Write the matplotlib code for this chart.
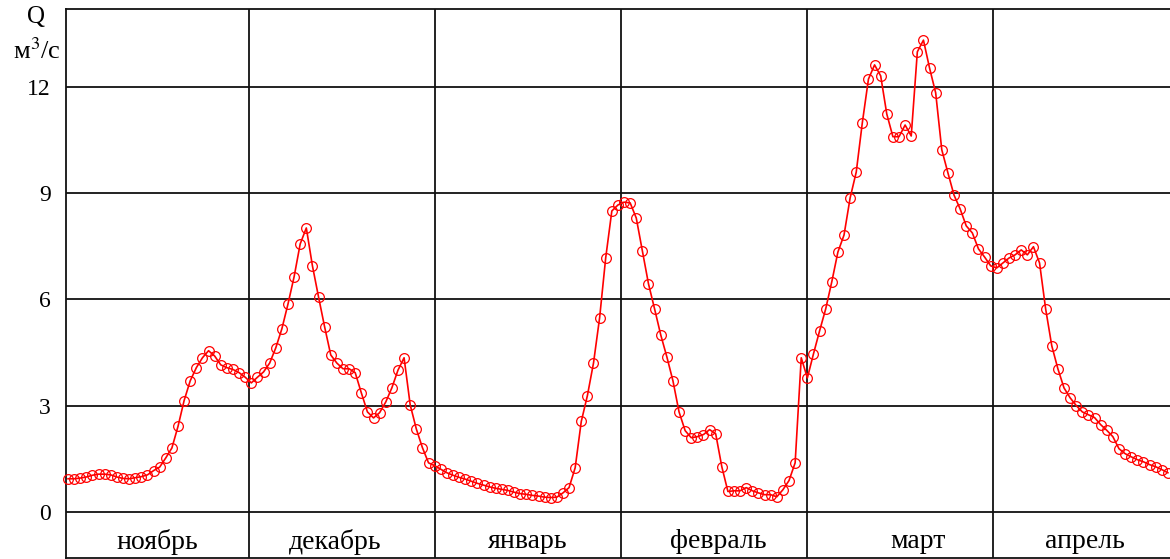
import numpy as np
import matplotlib
matplotlib.use('Agg')
from matplotlib import pyplot as plt

plt.rcParams['font.family'] = ['Liberation Serif', 'DejaVu Serif']
plt.rcParams['mathtext.fontset'] = 'stix'

# Daily discharge, Q m3/s, from 1 November to the end of April
q_nov = [0.93, 0.93, 0.95, 0.98, 1.03, 1.06, 1.06, 1.04, 0.98, 0.94,
         0.93, 0.96, 0.99, 1.04, 1.16, 1.26, 1.52, 1.8, 2.41, 3.14,
         3.7, 4.07, 4.35, 4.55, 4.4, 4.15, 4.07, 4.02, 3.93, 3.8]
q_dec = [3.64, 3.8, 3.95, 4.2, 4.63, 5.17, 5.87, 6.64, 7.57, 8.02,
         6.95, 6.07, 5.22, 4.43, 4.2, 4.04, 4.04, 3.93, 3.36, 2.82,
         2.65, 2.8, 3.1, 3.5, 4.0, 4.35, 3.02, 2.34, 1.81, 1.38, 1.3]
q_jan = [1.2, 1.1, 1.03, 0.97, 0.92, 0.86, 0.8, 0.75, 0.7, 0.66,
         0.63, 0.6, 0.55, 0.51, 0.49, 0.46, 0.44, 0.41, 0.4, 0.41,
         0.53, 0.68, 1.24, 2.55, 3.28, 4.2, 5.48, 7.18, 8.5, 8.67]
q_feb = [8.75, 8.73, 8.3, 7.37, 6.44, 5.73, 5.0, 4.38, 3.7, 2.82,
         2.29, 2.09, 2.12, 2.18, 2.32, 2.2, 1.27, 0.57, 0.59, 0.59,
         0.68, 0.59, 0.53, 0.48, 0.48, 0.42, 0.62, 0.88, 1.38, 4.35]
q_mar = [3.78, 4.46, 5.11, 5.73, 6.5, 7.34, 7.82, 8.87, 9.6, 11.0,
         12.23, 12.63, 12.32, 11.24, 10.6, 10.6, 10.93, 10.62, 13.0, 13.33,
         12.54, 11.84, 10.23, 9.58, 8.95, 8.56, 8.08, 7.88, 7.43, 7.2]
q_apr = [6.95, 6.89, 7.03, 7.17, 7.26, 7.4, 7.26, 7.49, 7.03, 5.73,
         4.69, 4.04, 3.5, 3.22, 3.0, 2.82, 2.74, 2.66, 2.46, 2.3,
         2.12, 1.78, 1.64, 1.55, 1.47, 1.41, 1.33, 1.27, 1.19, 1.1]

months = ['ноябрь', 'декабрь', 'январь', 'февраль', 'март', 'апрель']
month_edges = [-0.33, 29.6, 60.1, 90.5, 121.0, 151.4]
label_x = [14.6, 43.7, 75.3, 106.4, 139.1, 166.4]
y_ticks = [0, 3, 6, 9, 12]

q = np.array(q_nov + q_dec + q_jan + q_feb + q_mar + q_apr)
days = np.arange(len(q))

fig = plt.figure(figsize=(11.7, 5.59), dpi=100)
ax = fig.add_axes([66 / 1170, 1 / 559, 1104 / 1170, 549 / 559])

grid_kw = dict(color='#111111', lw=1.3, zorder=1)
for y in y_ticks:
    ax.axhline(y, **grid_kw)
for x in month_edges[1:]:
    ax.axvline(x, **grid_kw)

ax.plot(days, q, '-o', color='red', lw=1.2, markersize=7,
        markerfacecolor='none', markeredgecolor='red', markeredgewidth=0.9,
        zorder=3, clip_on=False)

for name, x in zip(months, label_x):
    ax.text(x, -0.85, name, ha='center', va='center', fontsize=20)

ax.set_xlim(-0.33, 180.35)
ax.set_ylim(-1.31, 14.21)
ax.set_xticks([])
ax.set_yticks(y_ticks)
ax.set_yticklabels([str(v) for v in y_ticks], fontsize=17)
ax.tick_params(axis='y', length=0, pad=11)

for side in ['left', 'top', 'bottom']:
    ax.spines[side].set_linewidth(1.3)
    ax.spines[side].set_color('#111111')
ax.spines['right'].set_visible(False)

fig.text(36 / 1170, 1 - 17 / 559, 'Q', ha='center', va='center', fontsize=18)
fig.text(37 / 1170, 1 - 51 / 559, r'м$^{3}$/с', ha='center', va='center', fontsize=19)

fig.savefig('out.png', dpi=100)
